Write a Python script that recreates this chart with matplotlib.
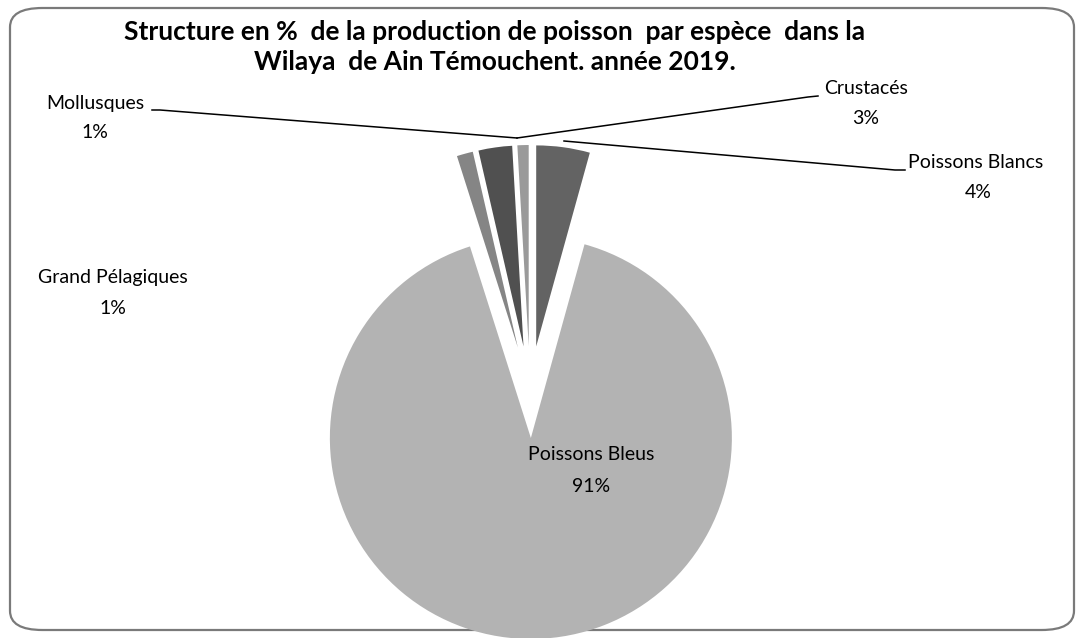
import numpy as np
import matplotlib.pyplot as plt
from matplotlib.patches import FancyBboxPatch

# Production de poisson par espèce, Ain Témouchent 2019 (% du total)
species = ["Poissons Blancs", "Poissons Bleus", "Grand Pélagiques", "Crustacés", "Mollusques"]
shares = [4.3, 90.8, 1.3, 2.7, 0.9]
colors = ["#636363", "#b3b3b3", "#858585", "#505050", "#9a9a9a"]

W, H = 1081, 638
plt.rcParams["font.family"] = ["Lato", "DejaVu Sans"]

fig = plt.figure(figsize=(W / 100, H / 100), dpi=100)
fig.patch.set_facecolor("white")

# frame with rounded corners (chart area of the spreadsheet)
frame = FancyBboxPatch((10 / W, 8 / H), 1064 / W, 622 / H,
                       boxstyle="round,pad=0,rounding_size=0.03",
                       transform=fig.transFigure, facecolor="white",
                       edgecolor="#7a7a7a", linewidth=1.6, zorder=-5)
fig.patches.append(frame)

ax = fig.add_axes([0, 0, 1, 1])
ax.set_zorder(1)

# pixel coords helper (y measured from top of the image)
def py(y):
    return H - y

R = 201
# explode is in data units for matplotlib's pie (not scaled by radius)
explode = [46] * len(shares)
ax.pie(shares, colors=colors, startangle=90, counterclock=False,
       center=(530, py(392)), radius=R, explode=explode,
       wedgeprops=dict(linewidth=0), frame=True)
ax.set_xlim(0, W)
ax.set_ylim(0, H)
ax.set_aspect("equal")
ax.axis("off")

ax.text(495, py(32), "Structure en %  de la production de poisson  par espèce  dans la",
        ha="center", va="center", fontsize=19, fontweight="bold")
ax.text(495, py(62), "Wilaya  de Ain Témouchent. année 2019.",
        ha="center", va="center", fontsize=19, fontweight="bold")

lab = dict(ha="center", va="center", fontsize=14, color="black")
pct = [f"{round(v)}%" for v in shares]

ax.text(591, py(455), species[1], **lab)
ax.text(591, py(486), pct[1], **lab)
ax.text(976, py(163), species[0], **lab)
ax.text(978, py(193), pct[0], **lab)
ax.text(866, py(88), species[3], **lab)
ax.text(866, py(119), pct[3], **lab)
ax.text(95, py(103), species[4], **lab)
ax.text(95, py(133), pct[4], **lab)
ax.text(113, py(277), species[2], **lab)
ax.text(113, py(308), pct[2], **lab)

# leader lines
line = dict(color="black", linewidth=1.1)
ax.plot([152, 160, 517], [py(110), py(110), py(138)], **line)
ax.plot([517, 808, 818], [py(138), py(97), py(96)], **line)
ax.plot([564, 895, 905], [py(141), py(170), py(170)], **line)

fig.savefig("out.png", dpi=100)
